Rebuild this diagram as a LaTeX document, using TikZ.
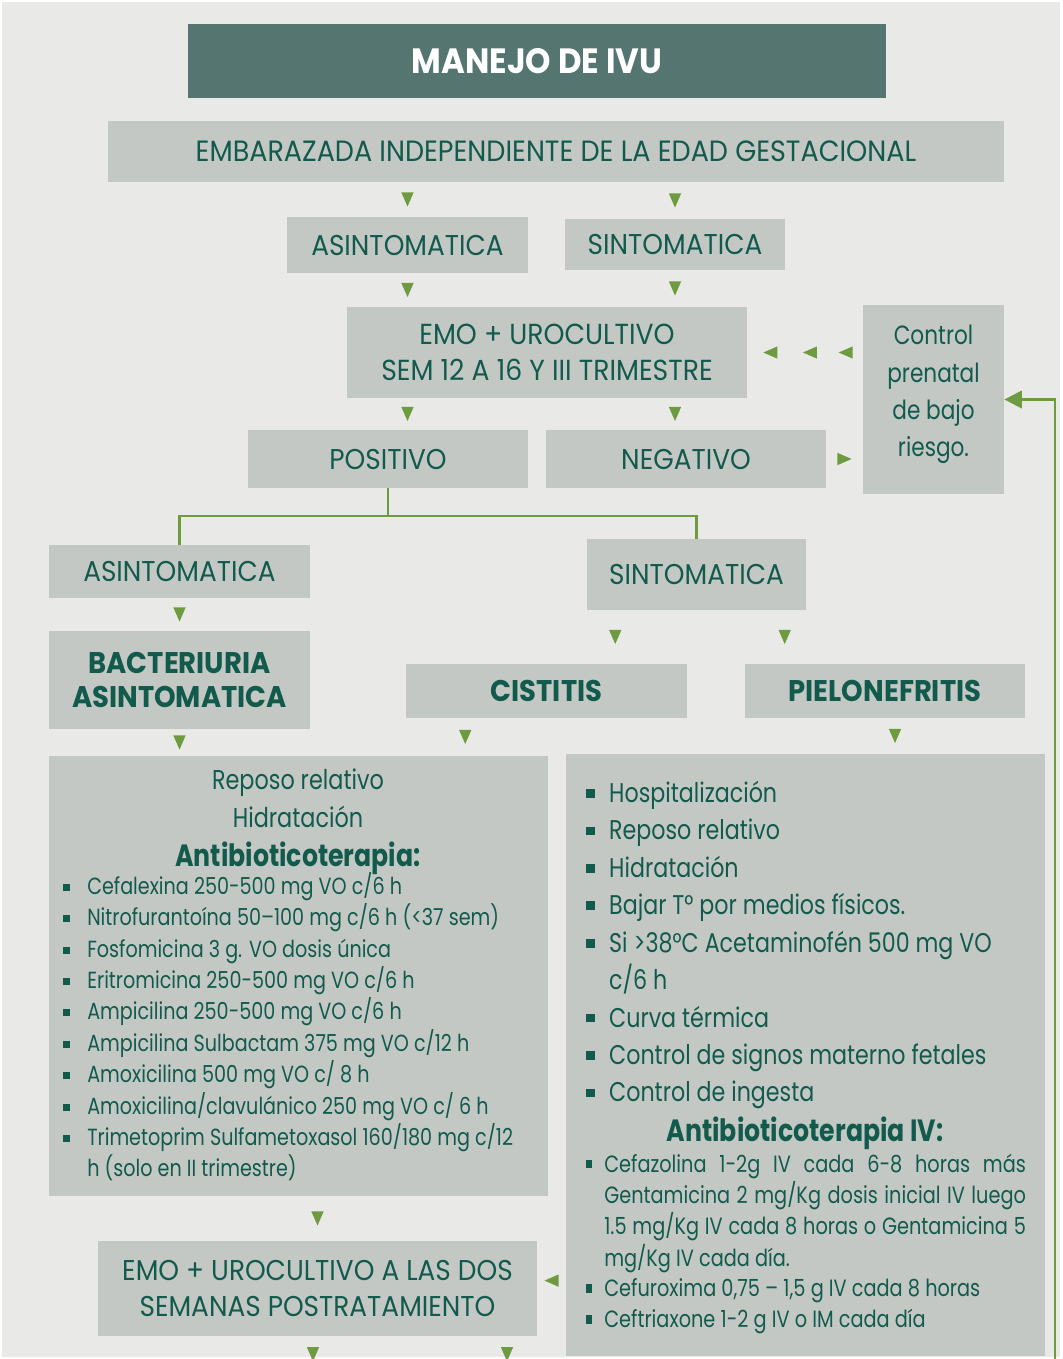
\documentclass[tikz,border=0pt]{standalone}
\usepackage{fontspec}
\setmainfont{Poppins}[FakeStretch=0.82]
\newfontfamily\capsfont{Poppins}[FakeStretch=0.92]
\usetikzlibrary{positioning, calc, arrows.meta, decorations.markings}
\definecolor{ivuTeal}{HTML}{557570}
\definecolor{ivuBox}{HTML}{C4C8C4}
\definecolor{ivuBack}{HTML}{E9E9E7}
\definecolor{ivuText}{HTML}{125B4C}
\definecolor{ivuGreen}{HTML}{6E9A40}
\newcommand{\px}{0.02cm}
\newcommand{\fs}[2]{\fontsize{#1}{#2}\selectfont}
\newcommand{\ivutri}{\fill[ivuGreen] (4pt,0) -- (-4pt,3.5pt) -- (-4pt,-3.5pt) -- cycle;}
% bullets of the three lists
\newcommand{\bla}{\makebox[13.9pt][l]{\rule[2pt]{4pt}{4pt}}}
\newcommand{\blb}{\makebox[13pt][l]{\rule[2.6pt]{5pt}{5pt}}}
\newcommand{\blc}{\makebox[10.2pt][l]{\rule[2pt]{3.4pt}{5pt}}}

\begin{document}
\begin{tikzpicture}[
        x=0.02cm, y=-0.02cm,
        box/.style={rectangle, fill=ivuBox, draw=none, text=ivuText, align=center, inner sep=0pt, font=\capsfont\fs{16.3}{20}},
        titlebox/.style={box, fill=ivuTeal, text=white, font=\capsfont\bfseries\fs{20}{24}},
        headbox/.style={box, font=\capsfont\bfseries\fs{17}{21}},
        txt/.style={text=ivuText, inner sep=0pt, align=center},
        conn/.style={draw=none, postaction={decorate}, decoration={markings, mark=at position 0.5 with {\ivutri}}},
        conns/.style={draw=none, postaction={decorate}, decoration={markings,
            mark=at position 0.147 with {\ivutri}, mark=at position 0.457 with {\ivutri}, mark=at position 0.8 with {\ivutri}}},
        tree/.style={draw=ivuGreen, line width=1.2pt},
        back/.style={draw=ivuGreen, line width=1.3pt, -{Triangle[length=10pt, width=10pt]}}
    ]
        \useasboundingbox (0,0) rectangle (1062,1359);
        \fill[white] (0,0) rectangle (1062,1359);
        \fill[ivuBack] (2,2) rectangle (1060,1357);

        % Top
        \node[titlebox, minimum width=698*\px, minimum height=74*\px] (titulo) at (537,61) {MANEJO DE IVU};
        \node[box, minimum width=896*\px, minimum height=61*\px, font=\capsfont\fs{16.7}{20}] (embarazada) at (556,151.5) {EMBARAZADA INDEPENDIENTE DE LA EDAD GESTACIONAL};
        \node[box, minimum width=241*\px, minimum height=56*\px] (asin) at (407.5,245) {ASINTOMATICA};
        \node[box, minimum width=220*\px, minimum height=51*\px] (sint) at (675,244.5) {SINTOMATICA};
        \node[box, minimum width=400*\px, minimum height=91*\px, font=\capsfont\fs{16.5}{20.4}] (emo) at (547,352.5) {EMO + UROCULTIVO\\SEM 12 A 16 Y III TRIMESTRE};
        \node[box, minimum width=141*\px, minimum height=189*\px, font=\fs{15}{21.2}] (control) at (933.5,399.5) {};
        \node[txt, font=\fs{15}{21.2}, yshift=2.8pt] (controltxt) at (control) {Control\\prenatal\\de bajo\\riesgo.};
        \node[box, minimum width=280*\px, minimum height=58*\px] (positivo) at (388,459) {POSITIVO};
        \node[box, minimum width=280*\px, minimum height=58*\px] (negativo) at (686,459) {NEGATIVO};

        % Diagnosis
        \node[box, minimum width=261*\px, minimum height=53*\px] (asin2) at (179.5,571.5) {ASINTOMATICA};
        \node[box, minimum width=219*\px, minimum height=71*\px] (sint2) at (696.5,574.5) {SINTOMATICA};
        \node[headbox, minimum width=261*\px, minimum height=98*\px, font=\capsfont\bfseries\fs{17}{19.9}] (bacteriuria) at (179.5,680) {BACTERIURIA\\ASINTOMATICA};
        \node[headbox, minimum width=281*\px, minimum height=54*\px] (cistitis) at (546.5,691) {CISTITIS};
        \node[headbox, minimum width=280*\px, minimum height=54*\px] (pielo) at (885,691) {PIELONEFRITIS};

        % Treatment
        \node[box, minimum width=499*\px, minimum height=440*\px] (tratamiento) at (298.5,976) {};
        \node[box, minimum width=479*\px, minimum height=602*\px] (hospital) at (805.5,1055) {};
        \node[box, minimum width=439*\px, minimum height=95*\px, font=\capsfont\fs{16.3}{20.4}] (control2) at (317.5,1288.5) {EMO + UROCULTIVO A LAS DOS\\SEMANAS POSTRATAMIENTO};

        \node[txt, anchor=base, font=\fs{15.5}{21.6}] (medidas) at (298,827) {Reposo relativo\\Hidratación};
        \node[txt, anchor=base, font=\bfseries\fs{17.5}{21}] (antib) at (298,866) {Antibioticoterapia:};
        \node[txt, anchor=base west, font=\fs{13.3}{17.8}] (lista) at (62.5,894.5) {%
            \begin{tabular}[t]{@{}l@{}l@{}}
            \bla & Cefalexina 250-500 mg VO c/6 h\\
            \bla & Nitrofurantoína 50–100 mg c/6 h (<37 sem)\\
            \bla & Fosfomicina 3 g. VO dosis única\\
            \bla & Eritromicina 250-500 mg VO c/6 h\\
            \bla & Ampicilina 250-500 mg VO c/6 h\\
            \bla & Ampicilina Sulbactam 375 mg VO c/12 h\\
            \bla & Amoxicilina 500 mg VO c/ 8 h\\
            \bla & Amoxicilina/clavulánico 250 mg VO c/ 6 h\\
            \bla & Trimetoprim Sulfametoxasol 160/180 mg c/12\\
                 & h (solo en II trimestre)
            \end{tabular}};

        \node[txt, anchor=base west, font=\fs{15.4}{21.3}] (cuidados) at (586,802.5) {%
            \begin{tabular}[t]{@{}l@{}l@{}}
            \blb & Hospitalización\\
            \blb & Reposo relativo\\
            \blb & Hidratación\\
            \blb & Bajar T° por medios físicos.\\
            \blb & Si >38°C Acetaminofén 500 mg VO\\
                 & c/6 h\\
            \blb & Curva térmica\\
            \blb & Control de signos materno fetales\\
            \blb & Control de ingesta
            \end{tabular}};
        \node[txt, anchor=base, font=\bfseries\fs{17.5}{21}] (antibiv) at (805,1141) {Antibioticoterapia IV:};
        \node[txt, anchor=base west, font=\fs{13.4}{17.4}] (listaiv) at (586,1172) {%
            \begin{tabular}[t]{@{}l@{}l@{}}
            \blc & \makebox[240pt][s]{Cefazolina 1-2g IV cada 6-8 horas más}\\
                 & \makebox[240pt][s]{Gentamicina 2 mg/Kg dosis inicial IV luego}\\
                 & \makebox[240pt][s]{1.5 mg/Kg IV cada 8 horas o Gentamicina 5}\\
                 & mg/Kg IV cada día.\\
            \blc & Cefuroxima 0,75 – 1,5 g IV cada 8 horas\\
            \blc & Ceftriaxone 1-2 g IV o IM cada día
            \end{tabular}};

        % Connectors
        \path[conn] (embarazada.south -| asin.north) -- (asin.north);
        \path[conn] (embarazada.south -| sint.north) -- (sint.north);
        \path[conn] (asin.south) -- (asin.south |- emo.north);
        \path[conn] (sint.south) -- (sint.south |- emo.north);
        \path[conn] (emo.south -| asin.south) -- (positivo.north -| asin.south);
        \path[conn] (emo.south -| sint.south) -- (negativo.north -| sint.south);
        \path[conns] (control.west |- emo.east) -- (emo.east);
        \path[conn] (negativo.east) -- (negativo.east -| control.west);

        \draw[tree] (positivo.south) -- ++(0,28) coordinate (rama);
        \draw[tree] (rama) -| (asin2.north);
        \draw[tree] (rama) -| (sint2.north);

        \path[conn] (asin2.south) -- (asin2.south |- bacteriuria.north);
        \path[conn] ([xshift=-46.25pt]sint2.south) -- ([xshift=-46.25pt]sint2.south |- cistitis.north);
        \path[conn] ([xshift=50.2pt]sint2.south) -- ([xshift=50.2pt]sint2.south |- pielo.north);
        \path[conn] (bacteriuria.south) -- (bacteriuria.south |- tratamiento.north);
        \path[conn] ([xshift=-46.25pt]cistitis.south) -- ([xshift=-46.25pt]cistitis.south |- tratamiento.north);
        \path[conn] ([xshift=5.7pt]pielo.south) -- ([xshift=5.7pt]pielo.south |- hospital.north);
        \path[conn] (tratamiento.south -| control2.north) -- (control2.north);
        \path[conn] ([yshift=4.5pt]control2.east -| hospital.west) -- ([yshift=4.5pt]control2.east);

        \coordinate (salida1) at (313,1372);
        \coordinate (salida2) at (507,1372);
        \path[conn] (control2.south -| salida1) -- (salida1);
        \path[conn] (control2.south -| salida2) -- (salida2);

        \coordinate (retorno) at (1055,1375);
        \draw[back] (retorno) |- (control.east);
    \end{tikzpicture}
\end{document}
